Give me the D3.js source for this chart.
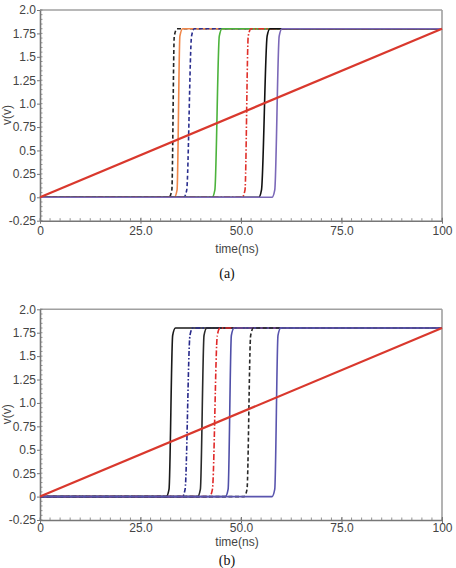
<!DOCTYPE html>
<html>
<head>
<meta charset="utf-8">
<script src="https://cdn.jsdelivr.net/npm/d3@7"></script>
<style>
  body { margin: 0; background: #fff; }
  text { font-family: "Liberation Sans", Arial, sans-serif; fill: #444; }
  .cap { font-family: "Liberation Serif", "Times New Roman", serif; fill: #111; }
</style>
</head>
<body>
<div id="chart"></div>
<script>
// data
var xTicks = [0, 25, 50, 75, 100];
var xTickLabels = ["0", "25.0", "50.0", "75.0", "100"];
var yTicks = [-0.25, 0, 0.25, 0.5, 0.75, 1.0, 1.25, 1.5, 1.75, 2.0];
var yTickLabels = ["-0.25", "0", "0.25", "0.5", "0.75", "1.0", "1.25", "1.5", "1.75", "2.0"];

// ramp input (time ns, volts)
var rampTime = [0, 100];
var rampVolt = [0, 1.8];

// output steps: low / high level and edge start / end times (ns)
var lowLevel = 0;
var highLevel = 1.8;
var namesA = ["a1", "a2", "a3", "a4", "a5", "a6", "a7"];
var riseStartA = [32.8, 34.1, 36.5, 43.5, 51.0, 55.1, 58.4];
var riseEndA = [33.4, 34.8, 37.7, 44.6, 51.8, 56.5, 59.5];

var namesB = ["b1", "b2", "b3", "b4", "b5", "b6", "b7"];
var riseStartB = [32.1, 36.1, 39.9, 42.9, 46.8, 51.5, 58.4];
var riseEndB = [33.0, 37.3, 40.8, 44.1, 47.6, 52.4, 59.2];

// styles
var styles = {
	a1: {color: "#222", dash: "4,2.5"},
	a2: {color: "#f0874a", dash: null},
	a3: {color: "#2b2f8f", dash: "4,2.5"},
	a4: {color: "#4cb33c", dash: null},
	a5: {color: "#e0302a", dash: "6,2,1.5,2"},
	a6: {color: "#111", dash: null},
	a7: {color: "#7b68b8", dash: null},
	b1: {color: "#1a1a1a", dash: null},
	b2: {color: "#27288a", dash: "5,2,1.5,2"},
	b3: {color: "#2a2a2a", dash: null},
	b4: {color: "#e02828", dash: "6,2,1.5,2"},
	b5: {color: "#4f4fa8", dash: null},
	b6: {color: "#2a2a2a", dash: "4,2.5"},
	b7: {color: "#5a55ae", dash: null}
};

var svgWidth = 456;
var svgHeight = 568;

var svg = d3.select("#chart")
	.append("svg")
	.attr("width", svgWidth)
	.attr("height", svgHeight);

function drawPanel(top, bottom, names, starts, ends, caption, labelGap, titleGap, capY) {
	var left = 40, right = 442;

	var x = d3.scaleLinear().domain([0, 100]).range([left, right]);
	var y = d3.scaleLinear().domain([-0.25, 2.0]).range([bottom, top]);

	var g = svg.append("g");

	// frame (top and right lighter)
	g.append("line").attr("x1", left).attr("x2", right).attr("y1", top).attr("y2", top)
		.attr("stroke", "#a0a0a0").attr("stroke-width", 1.6);
	g.append("line").attr("x1", right).attr("x2", right).attr("y1", top).attr("y2", bottom)
		.attr("stroke", "#a0a0a0").attr("stroke-width", 1.6);

	// minor ticks
	var xMinor = d3.range(0, 100.01, 2.5);
	g.selectAll(".xminor").data(xMinor).enter().append("line")
		.attr("x1", d => x(d)).attr("x2", d => x(d))
		.attr("y1", bottom).attr("y2", bottom - 2.5)
		.attr("stroke", "#777").attr("stroke-width", 0.8);
	var yMinor = d3.range(-0.25, 2.001, 0.05);
	g.selectAll(".yminor").data(yMinor).enter().append("line")
		.attr("x1", left).attr("x2", left + 2.5)
		.attr("y1", d => y(d)).attr("y2", d => y(d))
		.attr("stroke", "#777").attr("stroke-width", 0.8);

	// axes
	var bottomAxis = d3.axisBottom(x).tickValues(xTicks)
		.tickFormat((d, i) => xTickLabels[i]).tickSizeInner(3).tickSizeOuter(0).tickPadding(5);
	var leftAxis = d3.axisLeft(y).tickValues(yTicks)
		.tickFormat((d, i) => yTickLabels[i]).tickSizeInner(3).tickSizeOuter(0).tickPadding(1);

	var xa = g.append("g").attr("transform", `translate(0, ${bottom})`).call(bottomAxis);
	var ya = g.append("g").attr("transform", `translate(${left}, 0)`).call(leftAxis);
	[xa, ya].forEach(function(a) {
		a.select(".domain").attr("stroke", "#777").attr("stroke-width", 1.6);
		a.selectAll(".tick line").attr("stroke", "#777").attr("stroke-width", 1);
		a.selectAll(".tick text").attr("fill", "#444")
			.style("font-family", "'Liberation Sans', Arial, sans-serif").style("font-size", "12px");
	});
	xa.selectAll(".tick line").attr("y1", -3);
	xa.selectAll(".tick text").attr("y", labelGap - 4).attr("dy", "0.35em");

	// axis titles
	g.append("text")
		.attr("x", 237).attr("y", bottom + titleGap).attr("dy", "0.35em")
		.attr("text-anchor", "middle").style("font-size", "12px")
		.text("time(ns)");
	g.append("text")
		.attr("transform", `translate(11, ${y(0.88)}) rotate(-90)`)
		.attr("text-anchor", "middle").style("font-size", "12px")
		.text("v(v)");

	// step outputs
	var line = d3.line().x(d => x(d[0])).y(d => y(d[1]));
	names.forEach(function(n, i) {
		var s = starts[i], e = ends[i];
		var pts = [[0, lowLevel], [s - 0.7, lowLevel], [s, lowLevel + 0.08],
			[e, highLevel - 0.08], [e + 0.7, highLevel], [100, highLevel]];
		g.append("path")
			.attr("d", line.curve(d3.curveMonotoneX)(pts))
			.attr("fill", "none")
			.attr("stroke", styles[n].color)
			.attr("stroke-width", 1.6)
			.attr("stroke-dasharray", styles[n].dash);
	});

	// ramp
	g.append("path")
		.attr("d", d3.line().x(d => x(d[0])).y(d => y(d[1]))(rampTime.map((t, i) => [t, rampVolt[i]])))
		.attr("fill", "none")
		.attr("stroke", "#d9382d")
		.attr("stroke-width", 2.2);

	// caption
	g.append("text")
		.attr("class", "cap")
		.attr("x", 227).attr("y", capY).attr("dy", "0.35em")
		.attr("text-anchor", "middle").style("font-size", "14px")
		.text(caption);
}

drawPanel(10, 220.7, namesA, riseStartA, riseEndA, "(a)", 14.3, 27.6, 273);
drawPanel(309.3, 520, namesB, riseStartB, riseEndB, "(b)", 11.5, 21.5, 560);
</script>
</body>
</html>
